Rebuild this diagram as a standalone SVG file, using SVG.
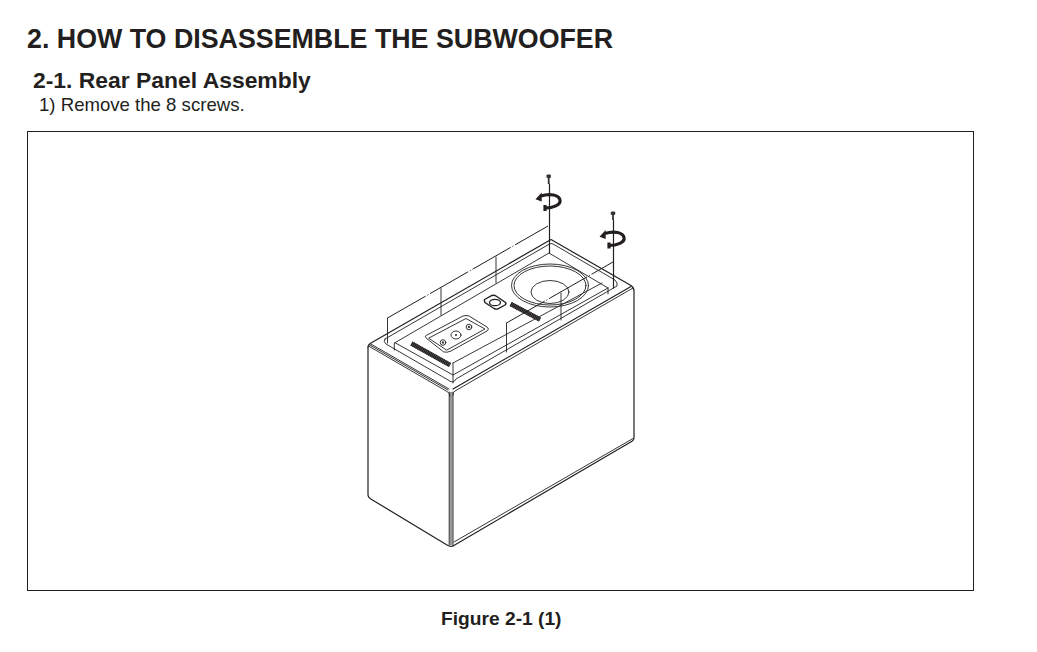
<svg xmlns="http://www.w3.org/2000/svg" width="1037" height="652" viewBox="0 0 1037 652">
<style>
text{font-family:"Liberation Sans",Arial,sans-serif;fill:#231f20}
.b{font-weight:700}
.l{fill:none;stroke:#231f20;stroke-width:.9;stroke-linecap:round;stroke-linejoin:round}
.t{fill:none;stroke:#231f20;stroke-width:1.2;stroke-linecap:round;stroke-linejoin:round}
.c{fill:none;stroke:#231f20;stroke-width:1;stroke-dasharray:44 2 1 2}
.v{fill:none;stroke:#231f20;stroke-width:4.600;stroke-dasharray:1.300 .5}
.u{fill:none;stroke:#666;stroke-width:4.600}
.a{fill:none;stroke:#231f20;stroke-width:3.200}
</style>
<rect width="1037" height="652" fill="#fff"/>
<text class="b" x="27" y="48" font-size="26.800">2. HOW TO DISASSEMBLE THE SUBWOOFER</text>
<text class="b" x="33" y="88" font-size="22.900">2-1. Rear Panel Assembly</text>
<text x="39" y="111" font-size="18.600">1) Remove the 8 screws.</text>
<rect x="27.500" y="131.500" width="946" height="459" fill="none" stroke="#231f20" stroke-width="1"/>
<text class="b" x="441" y="625" font-size="19.200">Figure 2-1 (1)</text>
<g id="subwoofer">
<path class="t" d="M368 347Q368 345 371 343L551 239.500L631 285.500Q634 287.500 634 291V438Q634 440 632 441.200L453 546"/>
<path class="t" d="M368 347V495Q368 497 370 498.500L447 545Q450 547 453 546"/>
<path d="M451 392V545" fill="none" stroke="#999" stroke-width="3.200"/>
<path class="l" d="M449.200 392V545M453 392V545"/>
<path class="l" d="M368.500 346L447 391.500Q450 393 450 396M369 344.500L448 390M370 343.500L449 389"/>
<path class="l" d="M453 395Q453 392 455 391L633 288"/>
<path class="l" d="M454 542L633 438.500"/>
<path class="t" d="M453 389L631 286.500"/>
<path class="l" d="M385 339L549.500 244Q551 243 553 244L615 280Q618 283 617 286L456 379Q453 384 449 380.500L386 344Q383 342 385 339Z"/>
<path class="l" d="M395 342.700L549 253L608 288M395 342.700L453 375L608 288M453 363L602 283"/>
<path class="l" d="M394.300 343V350M453 363V383M608 288V294"/>
</g>
<g id="speaker">
<ellipse class="l" cx="550" cy="285.500" rx="38.500" ry="21.500"/>
<ellipse class="l" cx="550" cy="285.500" rx="36" ry="19.500"/>
<ellipse class="l" cx="550" cy="292" rx="19" ry="11.500"/>
</g>
<g id="controls">
<path class="u" d="M411.500 343.500L450 365"/>
<path class="v" d="M411.500 343.500L450 365"/>
<path class="u" d="M510.700 304L540 319.500"/>
<path class="v" d="M510.700 304L540 319.500"/>
<path class="l" d="M426 338Q424 336 427 335L463 316Q466 315 469 316L487 327Q490 329 487 331L451 351Q447 353 444 352Z"/>
<path class="l" d="M429 338L466 318.500L485 329L447 350Z"/>
<circle class="l" cx="443" cy="342.500" r="2.800"/><circle cx="443" cy="342.500" r="1.200" fill="#444"/>
<ellipse class="l" cx="456" cy="335" rx="5" ry="4"/><circle cx="456" cy="335" r="1" fill="#231f20"/>
<circle class="l" cx="469" cy="327" r="2.800"/><circle cx="469" cy="327" r="1.200" fill="#444"/>
<path d="M484.500 299.500L492 295.500Q494 294.700 496 296L505.500 302.500Q506.500 304 505 305L497.500 309Q496 309.500 494 308.500L485 302.500Q484 301 484.500 299.500Z" fill="#fff" stroke="#231f20" stroke-width="1.400"/>
<ellipse cx="495" cy="302.500" rx="5.500" ry="3.200" fill="none" stroke="#231f20" stroke-width="1.300"/>
</g>
<g id="connectors">
<path class="c" d="M387.500 318L548 226"/>
<path class="l" d="M387.500 318V343M441 288V315M496 257V283"/>
<path class="t" d="M549.500 184V253"/>
<path class="c" d="M506.500 323L613 262"/>
<path class="l" d="M506.500 323V352M561 293V320"/>
<path class="t" d="M613.500 220V288"/>
</g>
<g id="screw-1">
<path d="M548.700 175V184" stroke="#333" stroke-width="1.800"/><rect x="546.500" y="174.500" width="4.400" height="3.500" rx="1" fill="#333"/>
<path class="a" d="M541 196C550 193 559 195 560 200C561 205 553 208 545 208"/>
<path d="M535.500 199.300L541.700 192.500V201.500Z" fill="#231f20"/><path d="M545 205V211" stroke="#231f20" stroke-width="3.200"/>
</g>
<g id="screw-2">
<path d="M613 212V220" stroke="#333" stroke-width="1.800"/><rect x="610.800" y="211.500" width="4.400" height="3.500" rx="1" fill="#333"/>
<path class="a" d="M605 233.500C614 230.500 623 232.500 624 237.500C625 242.500 617 245.500 609 245.500"/>
<path d="M599.500 236.700L605.700 230V239Z" fill="#231f20"/><path d="M609 242.500V248.500" stroke="#231f20" stroke-width="3.200"/>
</g>
</svg>
